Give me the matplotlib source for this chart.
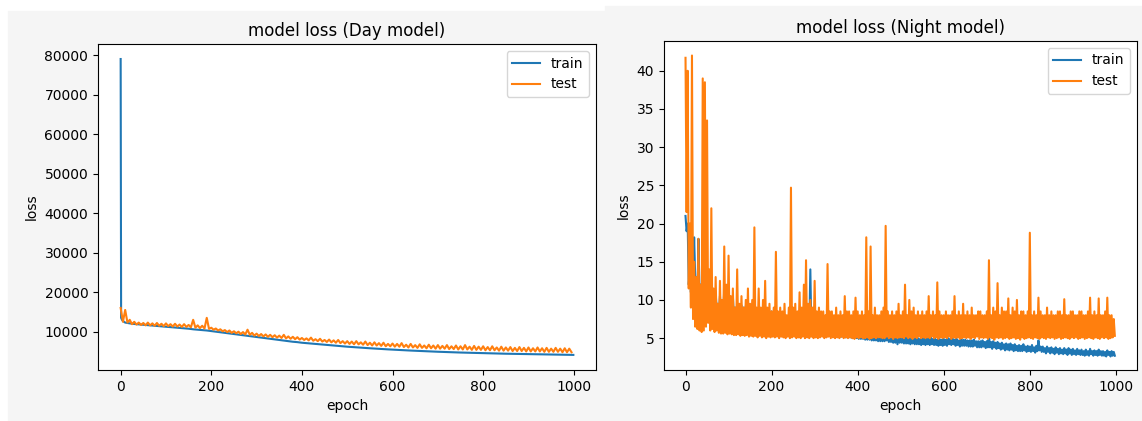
from matplotlib import pyplot as plt
from matplotlib.patches import Rectangle

# ---- Day model ----
day_train_epochs = [0, 1, 3, 6] + list(range(10, 1000, 10)) + [999]
day_train = [79000, 13500, 13000, 12600,
             12300, 12100, 11950, 11850, 11750, 11650, 11550, 11450, 11350, 11250,
             11150, 11050, 10950, 10850, 10750, 10600, 10500, 10400, 10300, 10150,
             10000, 9850, 9700, 9550, 9400, 9250, 9100, 8950, 8800, 8650,
             8500, 8350, 8200, 8050, 7900, 7750, 7600, 7450, 7350, 7200,
             7100, 7000, 6900, 6800, 6700, 6600, 6500, 6400, 6300, 6200,
             6120, 6040, 5960, 5880, 5800, 5730, 5660, 5590, 5520, 5460,
             5400, 5340, 5280, 5220, 5170, 5120, 5070, 5020, 4970, 4920,
             4880, 4840, 4800, 4760, 4720, 4690, 4660, 4630, 4600, 4570,
             4540, 4510, 4480, 4450, 4420, 4400, 4380, 4360, 4340, 4320,
             4300, 4280, 4260, 4240, 4220, 4200, 4180, 4160, 4140, 4120]

# test loss read as high / low envelope per 10-epoch bin
day_test_bins = list(range(0, 1000, 10))
day_test_high = [16000, 15500, 13000, 12500, 12300, 12200, 12300, 12100, 12200, 12000,
                 12100, 11900, 12000, 11800, 11900, 11700, 13000, 11600, 11500, 13500,
                 11000, 10800, 10600, 10400, 10300, 10100, 10000, 9900, 10500, 9700,
                 9500, 9400, 9300, 9200, 9100, 9000, 9200, 8800, 8700, 8600,
                 8400, 8300, 8500, 8100, 8200, 7900, 8000, 7800, 7900, 7600,
                 7600, 7500, 7600, 7300, 7500, 7200, 7300, 7100, 7200, 6900,
                 7000, 6900, 7100, 6700, 6900, 6600, 6800, 6500, 6700, 6500,
                 6600, 6400, 6600, 6300, 6500, 6300, 6600, 6200, 6400, 6200,
                 6300, 6100, 6300, 6000, 6200, 6000, 6100, 5900, 6100, 5900,
                 6000, 5800, 6000, 5800, 5900, 5700, 5900, 5700, 5800, 5700]
day_test_low = [12500, 12300, 11900, 11800, 11700, 11600, 11600, 11500, 11500, 11400,
                11400, 11300, 11300, 11200, 11200, 11100, 11000, 10900, 10800, 10700,
                10500, 10300, 10100, 9900, 9700, 9600, 9400, 9300, 9200, 9000,
                8900, 8800, 8700, 8600, 8500, 8400, 8300, 8200, 8100, 8000,
                7900, 7800, 7700, 7600, 7500, 7400, 7300, 7200, 7100, 7000,
                6900, 6800, 6800, 6700, 6600, 6500, 6500, 6400, 6300, 6300,
                6200, 6200, 6100, 6000, 6000, 5900, 5900, 5800, 5800, 5700,
                5700, 5700, 5600, 5600, 5500, 5500, 5500, 5400, 5400, 5400,
                5300, 5300, 5300, 5200, 5200, 5200, 5100, 5100, 5100, 5000,
                5000, 5000, 5000, 4900, 4900, 4900, 4900, 4800, 4800, 4800]

# ---- Night model: high / low envelope per 5-epoch bin ----
night_bins = list(range(0, 1000, 5))

night_train_high = [21.0, 20.0, 14.0, 15.0, 18.2, 13.0, 18.0, 12.0, 13.0, 11.5,
                    11.5, 10.5, 11.0, 10.0, 11.0, 9.5, 10.5, 9.5, 11.5, 10.0,
                    11.8, 9.5, 10.5, 9.0, 9.5, 9.0, 9.3, 9.0, 9.2, 8.8,
                    9.3, 8.8, 9.0, 8.5, 8.5, 8.3, 8.3, 8.0, 8.0, 7.8,
                    8.5, 7.8, 7.8, 7.5, 7.5, 7.3, 7.3, 7.0, 7.2, 7.0,
                    7.0, 6.9, 6.9, 6.8, 6.8, 6.7, 6.8, 6.6, 14.0, 6.6,
                    6.6, 6.5, 6.4, 6.4, 6.3, 6.3, 6.2, 6.2, 6.2, 6.1,
                    6.1, 6.0, 6.0, 6.0, 5.9, 5.9, 5.8, 5.8, 5.8, 5.7,
                    5.7, 5.7, 5.6, 5.6, 5.6, 5.5, 5.5, 5.5, 5.4, 5.4,
                    5.4, 5.4, 5.5, 5.6, 5.4, 5.3, 5.3, 5.2, 5.2, 5.2,
                    5.2, 5.1, 5.1, 5.1, 5.0, 5.1, 5.0, 5.0, 5.0, 4.9,
                    5.0, 4.9, 5.0, 4.9, 5.1, 4.9, 4.9, 4.8, 4.9, 4.8,
                    4.9, 4.8, 5.0, 4.9, 5.0, 4.8, 4.9, 4.7, 4.8, 4.8,
                    4.8, 4.7, 4.7, 4.7, 4.8, 4.6, 4.6, 4.6, 4.7, 4.5,
                    4.6, 5.4, 4.5, 4.6, 4.4, 4.5, 4.3, 4.4, 4.2, 4.3,
                    4.2, 4.3, 4.1, 4.2, 4.0, 4.1, 4.0, 4.2, 3.9, 4.0,
                    3.9, 4.1, 3.8, 4.0, 4.7, 3.9, 3.9, 3.7, 3.9, 3.7,
                    3.8, 3.6, 3.8, 3.6, 3.7, 3.5, 3.7, 3.5, 3.7, 3.5,
                    3.6, 3.4, 3.6, 3.4, 3.5, 3.3, 3.5, 3.3, 3.6, 3.3,
                    3.4, 3.3, 3.5, 3.3, 3.3, 3.2, 3.4, 3.2, 3.3, 3.2]
night_train_low = [19.0, 12.0, 11.0, 12.0, 13.0, 10.0, 11.0, 9.5, 9.5, 9.0,
                   9.0, 8.5, 8.5, 8.2, 8.5, 8.0, 8.0, 7.8, 8.0, 7.6,
                   7.8, 7.5, 7.5, 7.3, 7.3, 7.1, 7.2, 7.0, 7.0, 6.9,
                   6.9, 6.8, 6.8, 6.7, 6.6, 6.6, 6.5, 6.5, 6.4, 6.4,
                   6.4, 6.3, 6.3, 6.2, 6.2, 6.1, 6.1, 6.0, 6.0, 6.0,
                   5.9, 5.9, 5.9, 5.8, 5.8, 5.8, 5.7, 5.7, 5.7, 5.6,
                   5.6, 5.6, 5.5, 5.5, 5.5, 5.4, 5.4, 5.4, 5.3, 5.3,
                   5.3, 5.2, 5.2, 5.2, 5.1, 5.1, 5.1, 5.0, 5.0, 5.0,
                   4.9, 4.9, 4.9, 4.8, 4.8, 4.8, 4.7, 4.7, 4.7, 4.6,
                   4.6, 4.6, 4.6, 4.7, 4.5, 4.5, 4.4, 4.4, 4.2, 4.4,
                   4.4, 4.3, 4.3, 4.3, 4.2, 4.3, 4.2, 4.2, 4.2, 4.1,
                   4.2, 4.1, 4.2, 4.1, 4.2, 4.1, 4.1, 4.0, 4.1, 4.0,
                   4.1, 4.0, 4.2, 4.1, 4.2, 4.0, 4.1, 3.9, 4.0, 4.0,
                   4.0, 3.9, 3.9, 3.9, 4.0, 3.8, 3.8, 3.8, 3.9, 3.7,
                   3.8, 3.8, 3.6, 3.8, 3.6, 3.7, 3.5, 3.6, 3.4, 3.5,
                   3.4, 3.5, 3.3, 3.4, 3.3, 3.3, 3.3, 3.4, 3.2, 3.3,
                   3.2, 3.3, 3.1, 3.3, 3.4, 3.2, 3.2, 3.0, 3.2, 3.0,
                   3.1, 2.9, 3.1, 2.9, 3.0, 2.9, 3.0, 2.8, 3.0, 2.8,
                   2.9, 2.8, 2.9, 2.8, 2.8, 2.7, 2.8, 2.7, 2.9, 2.7,
                   2.8, 2.7, 2.8, 2.7, 2.7, 2.6, 2.8, 2.6, 2.7, 2.7]

night_test_high = [41.7, 40.0, 20.0, 42.0, 15.0, 13.0, 18.0, 12.0, 39.0, 38.5,
                   33.5, 14.0, 22.0, 11.5, 13.0, 9.5, 12.5, 10.0, 17.0, 12.0,
                   15.8, 10.5, 11.5, 9.0, 14.0, 9.5, 10.5, 9.0, 10.0, 11.5,
                   9.5, 10.0, 19.5, 9.0, 11.5, 9.0, 10.0, 12.5, 9.0, 9.5,
                   8.5, 9.0, 16.3, 8.5, 9.0, 8.5, 9.5, 8.0, 9.0, 24.7,
                   9.0, 9.5, 8.5, 11.0, 9.0, 12.0, 15.2, 9.5, 10.0, 9.0,
                   12.5, 8.5, 9.0, 8.5, 8.5, 8.0, 14.7, 8.5, 8.5, 8.0,
                   9.0, 8.0, 8.5, 8.0, 10.5, 8.5, 8.5, 8.0, 8.5, 10.3,
                   8.5, 8.0, 8.5, 8.0, 18.2, 8.5, 17.0, 8.0, 9.0, 8.0,
                   8.0, 8.5, 9.0, 19.7, 8.5, 8.0, 8.5, 8.0, 8.5, 9.5,
                   8.0, 8.5, 12.0, 8.0, 10.0, 8.5, 9.0, 8.0, 8.5, 8.0,
                   8.5, 8.0, 8.5, 10.5, 8.0, 8.5, 8.0, 12.3, 8.5, 8.0,
                   8.0, 8.5, 8.0, 8.0, 8.5, 10.5, 8.0, 8.5, 8.0, 9.5,
                   8.0, 8.5, 8.0, 9.0, 8.0, 8.0, 8.5, 8.5, 8.0, 8.0,
                   8.5, 15.2, 8.0, 9.0, 8.5, 12.2, 8.0, 9.0, 8.5, 8.5,
                   10.2, 8.0, 9.0, 8.5, 10.0, 8.0, 8.5, 8.5, 8.0, 8.5,
                   18.8, 8.0, 8.5, 8.0, 10.3, 8.5, 8.0, 8.0, 9.0, 8.0,
                   8.5, 8.0, 8.0, 8.5, 8.5, 8.0, 10.1, 8.0, 8.0, 8.5,
                   8.5, 8.0, 8.0, 8.5, 8.5, 8.0, 8.0, 8.5, 10.3, 8.0,
                   8.5, 8.0, 10.2, 8.0, 8.0, 8.5, 10.3, 8.0, 8.0, 7.5]
night_test_low = [21.5, 11.5, 9.0, 7.5, 6.5, 6.2, 6.0, 5.8, 6.0, 6.5,
                  7.0, 6.0, 6.2, 5.8, 6.0, 5.7, 5.6, 5.6, 5.7, 5.5,
                  5.6, 5.5, 5.4, 5.4, 5.5, 5.3, 5.4, 5.3, 5.4, 5.2,
                  5.3, 5.2, 5.3, 5.1, 5.3, 5.1, 5.2, 5.0, 5.2, 5.1,
                  5.2, 5.1, 5.2, 5.0, 5.2, 5.1, 5.0, 5.2, 5.0, 5.1,
                  5.2, 5.0, 5.1, 5.0, 5.2, 5.0, 5.1, 5.0, 5.2, 5.0,
                  5.1, 5.0, 5.1, 5.2, 5.0, 5.1, 5.2, 5.0, 5.1, 5.0,
                  5.1, 5.0, 5.2, 5.0, 5.1, 5.0, 5.1, 5.0, 4.9, 5.1,
                  5.0, 5.1, 5.0, 5.0, 5.1, 4.9, 5.0, 5.1, 5.0, 5.1,
                  5.1, 5.0, 5.0, 5.2, 5.0, 5.1, 4.9, 5.1, 5.0, 5.1,
                  5.1, 5.0, 5.2, 5.0, 5.1, 4.9, 5.1, 5.0, 5.2, 5.0,
                  5.1, 5.0, 5.1, 5.0, 5.2, 5.0, 5.1, 4.9, 5.1, 5.0,
                  5.1, 5.0, 5.2, 4.9, 5.1, 5.0, 5.1, 4.9, 5.0, 5.1,
                  5.0, 5.1, 4.9, 5.1, 5.0, 5.2, 4.9, 5.1, 5.0, 5.1,
                  4.9, 5.1, 5.0, 4.8, 5.1, 5.0, 5.1, 4.9, 5.0, 5.1,
                  4.9, 5.0, 5.1, 4.9, 5.0, 4.8, 5.1, 4.9, 5.0, 5.1,
                  5.0, 4.9, 5.1, 5.0, 4.9, 5.1, 5.0, 4.9, 5.1, 5.0,
                  5.1, 4.9, 5.0, 5.1, 4.9, 5.0, 5.1, 5.0, 4.9, 5.1,
                  5.0, 5.1, 4.9, 5.0, 5.1, 4.9, 5.0, 5.1, 5.0, 4.9,
                  5.1, 5.0, 4.9, 5.1, 5.0, 5.1, 4.9, 5.0, 5.1, 5.3]


def envelope_line(bins, highs, lows, width):
    # walk high -> low inside every bin so the noisy curve reads as a band
    xs, ys = [], []
    for b, hi, lo in zip(bins, highs, lows):
        xs += [b, b + width / 2]
        ys += [hi, lo]
    return xs, ys


W, H = 1142, 421
fig = plt.figure(figsize=(W / 100, H / 100), dpi=100, facecolor="white")

# grey backgrounds of the two pasted screenshots (behind the axes)
fig.patches.append(Rectangle((8 / W, -0.01), (605 - 8) / W, (H - 11) / H + 0.01,
                             transform=fig.transFigure, color="#f5f5f5", zorder=-5))
fig.patches.append(Rectangle((605 / W, -0.01), (W - 605) / W + 0.01, (H - 6) / H + 0.01,
                             transform=fig.transFigure, color="#f5f5f5", zorder=-5))


def px_axes(x0, y0, x1, y1):
    return fig.add_axes([x0 / W, (H - y1) / H, (x1 - x0) / W, (y1 - y0) / H])


ax1 = px_axes(98, 44, 596, 370)
ax1.plot(day_train_epochs, day_train, label="train")
ax1.plot(*envelope_line(day_test_bins, day_test_high, day_test_low, 10), label="test")
ax1.set_title("model loss (Day model)")
ax1.set_xlabel("epoch")
ax1.set_ylabel("loss")
ax1.legend(loc="upper right")

ax2 = px_axes(664, 41, 1137, 370)
ax2.plot(*envelope_line(night_bins, night_train_high, night_train_low, 5), label="train")
ax2.plot(*envelope_line(night_bins, night_test_high, night_test_low, 5), label="test")
ax2.set_title("model loss (Night model)")
ax2.set_xlabel("epoch")
ax2.set_ylabel("loss")
ax2.legend(loc="upper right")

for ax in (ax1, ax2):
    ax.set_xlim(-50, 1049)
ax1.set_ylim(300, 82800)
ax2.set_ylim(0.83, 43.9)

plt.savefig("out.png", dpi=100)
